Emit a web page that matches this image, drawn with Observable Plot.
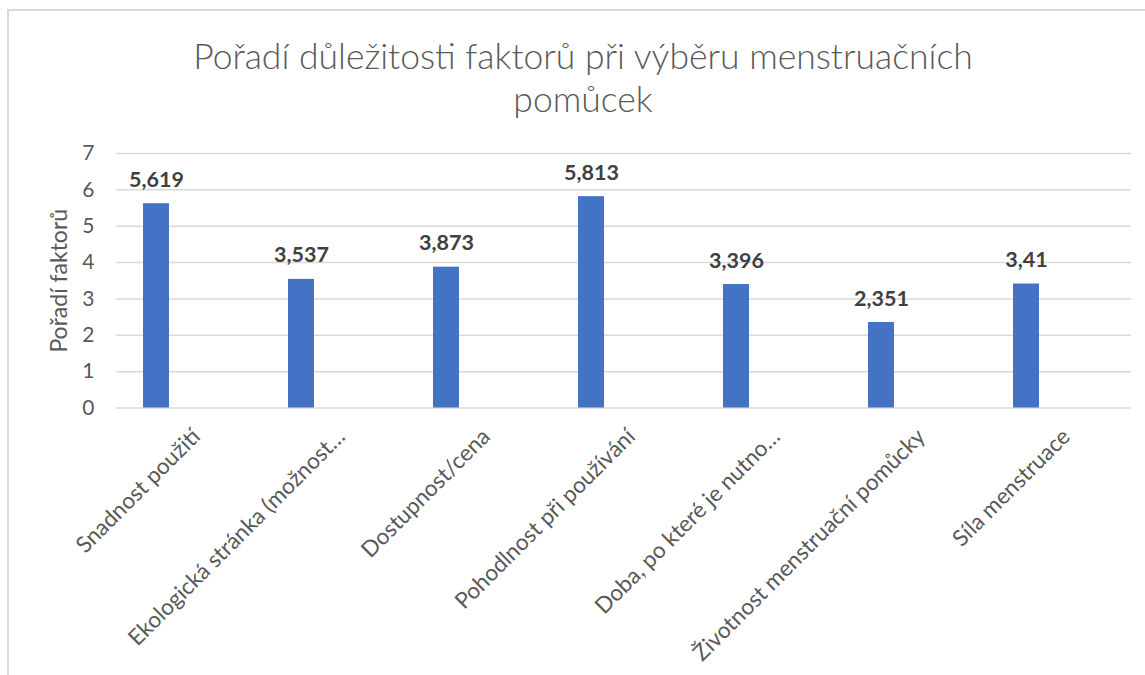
<!DOCTYPE html>
<html><head><meta charset="utf-8">
<script src="https://cdn.jsdelivr.net/npm/d3@7"></script>
<script src="https://cdn.jsdelivr.net/npm/@observablehq/plot@0.6"></script>
<style>
html,body{margin:0;padding:0;background:#fff;overflow:hidden;width:1145px;height:675px}
#frame{position:absolute;left:7px;top:9px;width:1300px;height:800px;border-left:2px solid #d9d9d9;border-top:2px solid #d9d9d9;box-sizing:border-box;pointer-events:none}
#wrap{position:absolute;left:0;top:0;width:1145px}
#title{height:130px;width:1145px;box-sizing:border-box;padding-top:34px;padding-left:21px;text-align:center;font-family:Lato,sans-serif;font-weight:300;font-size:35.5px;line-height:43px;color:#595959}
#chart svg{display:block}
</style></head><body>
<div id="frame"></div>
<div id="wrap">
<div id="title">Pořadí důležitosti faktorů při výběru menstruačních<br>pomůcek</div>
<div id="chart"></div>
</div>
<script>
const categories = [
  "Snadnost použití",
  "Ekologická stránka (možnost…",
  "Dostupnost/cena",
  "Pohodlnost při používání",
  "Doba, po které je nutno…",
  "Životnost menstruační pomůcky",
  "Síla menstruace"
];
const values = [5.619, 3.537, 3.873, 5.813, 3.396, 2.351, 3.41];
const yTicks = [0, 1, 2, 3, 4, 5, 6, 7];
const yLabel = "Pořadí faktorů";

const data = categories.map((c, i) => ({cat: c, value: values[i], label: String(values[i]).replace(".", ",")}));

const chart = Plot.plot({
  width: 1145,
  height: 545,
  marginLeft: 116,
  marginRight: 14,
  marginTop: 23,
  marginBottom: 267.5,
  style: {fontFamily: "Lato, sans-serif", background: "transparent"},
  x: {domain: categories, range: [83.5, 1098.5], paddingInner: 0.824, paddingOuter: 0.412, axis: null},
  y: {domain: [0, 7], ticks: yTicks, label: null},
  marks: [
    Plot.gridY(yTicks, {stroke: "#d9d9d9", strokeOpacity: 1, strokeWidth: 1.5}),
    Plot.axisY(yTicks, {tickSize: 0, tickPadding: 22, fontSize: 21, fill: "#595959", label: null}),
    Plot.barY(data, {x: "cat", y: "value", fill: "#4472c4"}),
    Plot.text(data, {x: "cat", y: "value", text: "label", dy: -17, lineAnchor: "bottom", fontSize: 21.5, fontWeight: "bold", fill: "#404040"}),
    Plot.text(data, {x: "cat", y: () => 0, text: "cat", rotate: -45, textAnchor: "end", lineAnchor: "bottom", dx: 45, dy: 30, fontSize: 22.5, fontWeight: 400, fill: "#595959"}),
    Plot.text([yLabel], {frameAnchor: "left", text: d => d, rotate: -90, textAnchor: "middle", dx: -57, fontSize: 23, fontWeight: 400, fill: "#595959"})
  ]
});
document.getElementById("chart").appendChild(chart);
</script>
</body></html>
